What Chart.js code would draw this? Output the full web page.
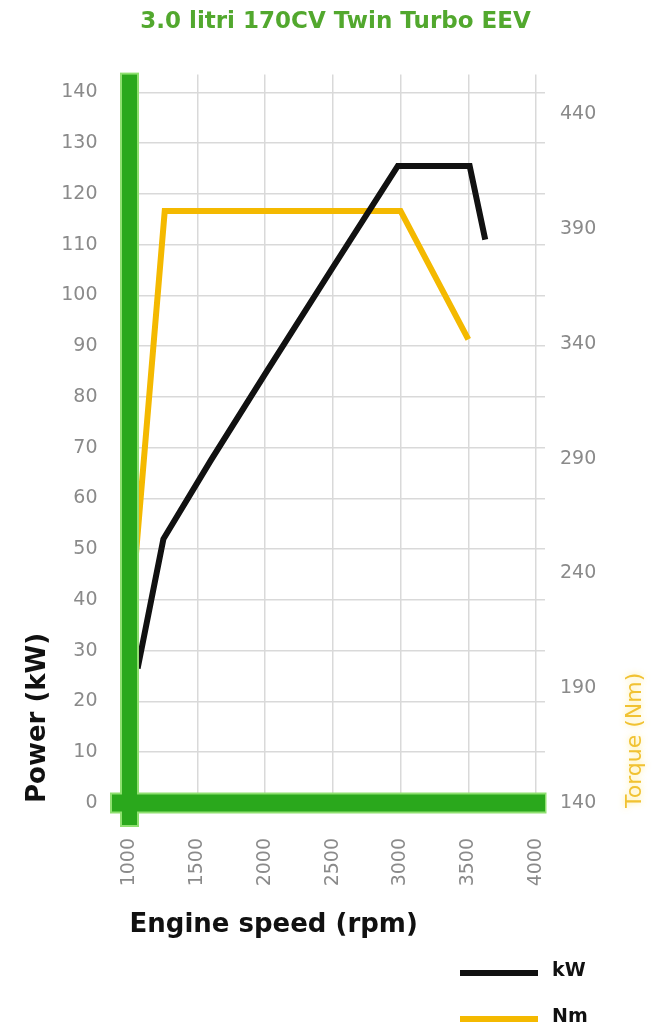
<!DOCTYPE html>
<html>
<head>
<meta charset="utf-8">
<title>3.0 litri 170CV Twin Turbo EEV</title>
<script src="https://cdn.jsdelivr.net/npm/chart.js@4.4.1/dist/chart.umd.min.js"></script>
<style>
    html, body { margin: 0; padding: 0; background: #ffffff; }
    #chartBox { position: relative; width: 671px; height: 1028px; }
</style>
</head>
<body>
<div id="chartBox"><canvas id="engineChart"></canvas></div>
<script>
const chartTitle = "3.0 litri 170CV Twin Turbo EEV";
const seriesLabels = ["kW", "Nm"];

// power curve (kW)
const powerRpm = [1060, 1250, 1600, 2000, 2500, 2980, 3510, 3625];
const powerKw = [26.5, 52, 67.5, 84.5, 105.5, 125.5, 125.5, 111];

// torque curve (Nm)
const torqueRpm = [1000, 1260, 3000, 3500];
const torqueNm = [215, 398, 398, 342];

const rpmTicks = [1000, 1500, 2000, 2500, 3000, 3500, 4000];
const powerTicks = [0, 10, 20, 30, 40, 50, 60, 70, 80, 90, 100, 110, 120, 130, 140];
const torqueTicks = [140, 190, 240, 290, 340, 390, 440];

const GREEN = "#2aa81c";
const BLACK = "#111111";
const YELLOW = "#f4b900";
const TICK_GREY = "#8a8a8a";

Chart.defaults.font.family = "'DejaVu Sans', sans-serif";

function toPoints(xs, ys) {
    return xs.map((x, i) => ({ x: x, y: ys[i] }));
}

function fixedTicks(values) {
    return (axis) => {
        axis.ticks = values.map((v) => ({ value: v }));
    };
}

const greenAxes = {
    id: "greenAxes",
    afterDatasetsDraw(chart) {
        const { ctx, chartArea } = chart;
        const { left, right, top, bottom } = chartArea;
        ctx.save();
        ctx.fillStyle = "#8fe070";
        ctx.fillRect(left - 9.5, top - 2, 19, bottom - top + 26);
        ctx.fillRect(left - 19.5, bottom - 10.5, right - left + 21, 21);
        ctx.fillStyle = GREEN;
        ctx.fillRect(left - 7.5, top, 15, bottom - top + 22);
        ctx.fillRect(left - 17.5, bottom - 8.5, right - left + 17.5, 17);
        ctx.restore();
    },
};

const torqueTitle = {
    id: "torqueTitle",
    afterDraw(chart) {
        const { ctx, chartArea } = chart;
        ctx.save();
        ctx.translate(chartArea.right + 90, chartArea.bottom + 5);
        ctx.rotate(-Math.PI / 2);
        ctx.font = "22px 'DejaVu Sans', sans-serif";
        ctx.textAlign = "left";
        ctx.textBaseline = "middle";
        ctx.shadowColor = "rgba(255, 225, 90, 0.7)";
        ctx.shadowBlur = 6;
        ctx.fillStyle = "#f1c232";
        ctx.fillText("Torque (Nm)", 0, 0);
        ctx.restore();
    },
};

const customLegend = {
    id: "customLegend",
    afterDraw(chart) {
        const { ctx, chartArea } = chart;
        const startX = chartArea.right - 85;
        const rows = [chart.height - 55, chart.height - 9];
        ctx.save();
        ctx.font = "bold 19px 'DejaVu Sans', sans-serif";
        ctx.textAlign = "left";
        ctx.textBaseline = "middle";
        chart.data.datasets.forEach((dataset, i) => {
            ctx.strokeStyle = dataset.borderColor;
            ctx.lineWidth = 6;
            ctx.beginPath();
            ctx.moveTo(startX, rows[i]);
            ctx.lineTo(startX + 78, rows[i]);
            ctx.stroke();
            ctx.fillStyle = BLACK;
            ctx.fillText(dataset.label, startX + 92, rows[i] - 2);
        });
        ctx.restore();
    },
};

const engineChart = new Chart(document.getElementById("engineChart"), {
    type: "line",
    data: {
        datasets: [
            {
                label: seriesLabels[0],
                data: toPoints(powerRpm, powerKw),
                yAxisID: "yPower",
                borderColor: BLACK,
                borderWidth: 6,
                borderJoinStyle: "miter",
                pointRadius: 0,
                tension: 0,
            },
            {
                label: seriesLabels[1],
                data: toPoints(torqueRpm, torqueNm),
                yAxisID: "yTorque",
                borderColor: YELLOW,
                borderWidth: 6,
                borderJoinStyle: "miter",
                pointRadius: 0,
                tension: 0,
            },
        ],
    },
    options: {
        responsive: true,
        maintainAspectRatio: false,
        animation: false,
        layout: { padding: 0 },
        plugins: {
            legend: { display: false },
            tooltip: { enabled: false },
            title: {
                display: true,
                text: chartTitle,
                color: "#52a82e",
                font: { size: 23, weight: "bold" },
                padding: { top: 8, bottom: 39 },
            },
        },
        scales: {
            x: {
                type: "linear",
                min: 1000,
                max: 4066,
                afterBuildTicks: fixedTicks(rpmTicks),
                afterFit: (scale) => {
                    scale.height = 225;
                },
                border: { display: false },
                grid: { color: "#d9d9d9", lineWidth: 1.5, drawTicks: false },
                ticks: {
                    autoSkip: false,
                    minRotation: 90,
                    maxRotation: 90,
                    padding: 35,
                    color: TICK_GREY,
                    font: { size: 19 },
                    callback: (value) => String(value),
                },
                title: {
                    display: true,
                    text: "Engine speed (rpm)",
                    align: "start",
                    color: BLACK,
                    font: { size: 26, weight: "bold" },
                    padding: { top: 0, bottom: 87 },
                },
            },
            yPower: {
                type: "linear",
                position: "left",
                min: 0,
                max: 143.5,
                afterBuildTicks: fixedTicks(powerTicks),
                afterFit: (scale) => {
                    scale.width = 129.5;
                },
                border: { display: false },
                grid: { color: "#d9d9d9", lineWidth: 1.5, drawTicks: false },
                ticks: {
                    padding: 32,
                    color: TICK_GREY,
                    font: { size: 19 },
                    callback: (value) => String(value),
                },
                title: {
                    display: true,
                    text: "Power (kW)",
                    align: "start",
                    color: BLACK,
                    font: { size: 26, weight: "bold" },
                    padding: { top: 23, bottom: 0 },
                },
            },
            yTorque: {
                type: "linear",
                position: "right",
                min: 140,
                max: 457.4,
                afterBuildTicks: fixedTicks(torqueTicks),
                afterFit: (scale) => {
                    scale.width = 126;
                },
                border: { display: false },
                grid: { drawOnChartArea: false, drawTicks: false },
                ticks: {
                    padding: 15,
                    color: TICK_GREY,
                    font: { size: 19 },
                    callback: (value) => String(value),
                },
            },
        },
    },
    plugins: [greenAxes, torqueTitle, customLegend],
});
</script>
</body>
</html>
